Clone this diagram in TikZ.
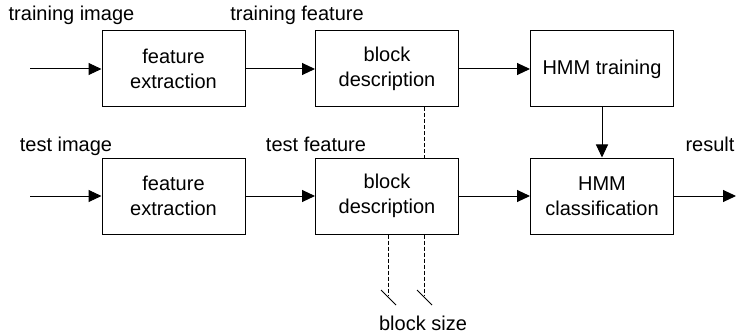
\documentclass[tikz,border=0pt]{standalone}
\usepackage{fontspec}
\setmainfont{Liberation Sans}
\usetikzlibrary{arrows.meta}
\begin{document}
\begin{tikzpicture}[x=1pt,y=-1pt,
  box/.style={draw,line width=1pt,minimum width=143pt,minimum height=76pt,inner sep=0pt,align=center,font=\fontsize{20}{25}\selectfont},
  lbl/.style={inner sep=0pt,font=\fontsize{20}{24}\selectfont,anchor=base},
  arr/.style={line width=1pt,-{Triangle[length=13pt,width=12pt]}},
  dsh/.style={line width=1pt,dash pattern=on 4pt off 2pt}]
\useasboundingbox (0,0) rectangle (736,334);
\node[box] (fe1) at (173.5,69) {feature\\extraction};
\node[box] (bd1) at (387,69) {block\\description};
\node[box] (ht) at (602,69) {HMM training};
\node[box] (fe2) at (173.5,196) {feature\\extraction};
\node[box] (bd2) at (387,196) {block\\description};
\node[box] (hc) at (602,196) {HMM\\classification};
\coordinate (in1) at (30,69);
\coordinate (in2) at (30,196);
\coordinate (out) at (736,196);
\draw[arr] (in1) -- (fe1);
\draw[arr] (fe1) -- (bd1);
\draw[arr] (bd1) -- (ht);
\draw[arr] (in2) -- (fe2);
\draw[arr] (fe2) -- (bd2);
\draw[arr] (bd2) -- (hc);
\draw[arr] (hc) -- (out);
\draw[arr] (ht) -- (hc);
\draw[dsh] (bd1.south -| 424,0) -- (bd2.north -| 424,0);
\coordinate (e1) at (388,295);
\coordinate (e2) at (424,295);
\draw[dsh] (bd2.south -| e1) -- (e1);
\draw[dsh] (bd2.south -| e2) -- (e2);
\draw[line width=1pt] (381,290) -- (396,305);
\draw[line width=1pt] (417,290) -- (432,305);
\node[lbl] (t1) at (71.5,21) {training image};
\node[lbl] (t2) at (297,21) {training feature};
\node[lbl] (t3) at (66,152) {test image};
\node[lbl] (t4) at (316,152) {test feature};
\node[lbl] (t5) at (710,152) {result};
\node[lbl] (t6) at (423,330) {block size};
\end{tikzpicture}
\end{document}
